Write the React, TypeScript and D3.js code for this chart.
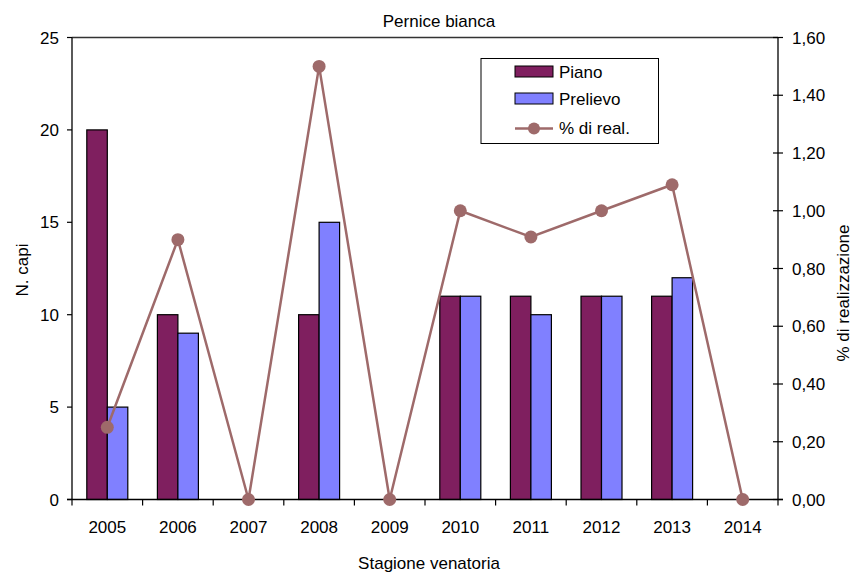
import React from "react";
import * as d3 from "d3";

const years = ["2005", "2006", "2007", "2008", "2009", "2010", "2011", "2012", "2013", "2014"];
const piano = [20, 10, 0, 10, 0, 11, 11, 11, 11, 0];
const prelievo = [5, 9, 0, 15, 0, 11, 10, 11, 12, 0];
const realizzazione = [0.25, 0.9, 0, 1.5, 0, 1.0, 0.909, 1.0, 1.09, 0];
const leftTicks = [0, 5, 10, 15, 20, 25];
const rightTicks = [0, 0.2, 0.4, 0.6, 0.8, 1.0, 1.2, 1.4, 1.6];

const W = 859, H = 574;
const L = 72, R = 778, T = 37.5, B = 499.5;
const font = "Liberation Sans, Arial, sans-serif";
const FS = 17;

export default function App() {
  const x = d3.scaleBand<string>().domain(years).range([L, R]).padding(0);
  const yL = d3.scaleLinear().domain([0, 25]).range([B, T]);
  const yR = d3.scaleLinear().domain([0, 1.6]).range([B, T]);
  const barW = 20.5;
  const line = d3.line<number>()
    .x((_, i) => x(years[i])! + x.bandwidth() / 2)
    .y((d) => yR(d));
  const fmt = (v: number) => v.toFixed(2).replace(".", ",");
  const cPiano = "#7f1f5f";
  const cPrel = "#8080ff";
  const cLine = "#9e6a6a";
  return (
    <svg width={W} height={H} style={{ position: "absolute", left: 0, top: 0 }} fontFamily={font}>
      <rect width={W} height={H} fill="white" />
      <text x={439} y={26.5} textAnchor="middle" fontSize={FS}>Pernice bianca</text>
      {/* top border */}
      <line x1={L} x2={R} y1={T} y2={T} stroke="#333" strokeWidth={1.5} />
      {/* bars */}
      {years.map((yr, i) => {
        const cx = x(yr)! + x.bandwidth() / 2;
        return (
          <g key={yr}>
            {piano[i] > 0 && (
              <rect x={cx - barW} y={yL(piano[i])} width={barW} height={B - yL(piano[i])} fill={cPiano} stroke="black" strokeWidth={1.2} />
            )}
            {prelievo[i] > 0 && (
              <rect x={cx} y={yL(prelievo[i])} width={barW} height={B - yL(prelievo[i])} fill={cPrel} stroke="black" strokeWidth={1.2} />
            )}
          </g>
        );
      })}
      {/* axes */}
      <line x1={L} x2={L} y1={T} y2={B} stroke="black" strokeWidth={1.3} />
      <line x1={R} x2={R} y1={T} y2={B} stroke="black" strokeWidth={1.3} />
      <line x1={L - 5} x2={R + 5} y1={B} y2={B} stroke="black" strokeWidth={1.3} />
      {leftTicks.map((t) => (
        <g key={"l" + t}>
          <line x1={L - 5} x2={L} y1={yL(t)} y2={yL(t)} stroke="black" strokeWidth={1.2} />
          <text x={L - 13} y={yL(t) + 6} textAnchor="end" fontSize={FS}>{t}</text>
        </g>
      ))}
      {rightTicks.map((t) => (
        <g key={"r" + t}>
          <line x1={R - 5} x2={R + 5} y1={yR(t)} y2={yR(t)} stroke="black" strokeWidth={1.2} />
          <text x={R + 14} y={yR(t) + 6} textAnchor="start" fontSize={FS}>{fmt(t)}</text>
        </g>
      ))}
      {years.map((yr, i) => (
        <line key={"xt" + i} x1={x(yr)!} x2={x(yr)!} y1={B} y2={B + 6} stroke="black" strokeWidth={1.2} />
      ))}
      <line x1={R} x2={R} y1={B} y2={B + 6} stroke="black" strokeWidth={1.2} />
      {years.map((yr) => (
        <text key={"xl" + yr} x={x(yr)! + x.bandwidth() / 2} y={533} textAnchor="middle" fontSize={FS}>{yr}</text>
      ))}
      {/* line series */}
      <path d={line(realizzazione)!} fill="none" stroke={cLine} strokeWidth={2.5} />
      {realizzazione.map((v, i) => (
        <circle key={"p" + i} cx={x(years[i])! + x.bandwidth() / 2} cy={yR(v)} r={6.5} fill={cLine} />
      ))}
      {/* axis titles */}
      <text x={429} y={569} textAnchor="middle" fontSize={FS}>Stagione venatoria</text>
      <text transform={`translate(28,${270}) rotate(-90)`} textAnchor="middle" fontSize={FS}>N. capi</text>
      <text transform={`translate(849,${293}) rotate(-90)`} textAnchor="middle" fontSize={FS}>% di realizzazione</text>
      {/* legend */}
      <rect x={481} y={58.5} width={177.5} height={85} fill="white" stroke="black" strokeWidth={1} />
      <rect x={515} y={66} width={38} height={11} fill={cPiano} stroke="black" strokeWidth={1} />
      <text x={559} y={78} fontSize={FS}>Piano</text>
      <rect x={515} y={93} width={38} height={11} fill={cPrel} stroke="black" strokeWidth={1} />
      <text x={559} y={105} fontSize={FS}>Prelievo</text>
      <line x1={515} x2={553} y1={128.5} y2={128.5} stroke={cLine} strokeWidth={2.5} />
      <circle cx={534} cy={128.5} r={6} fill={cLine} />
      <text x={559} y={134} fontSize={FS}>% di real.</text>
    </svg>
  );
}
